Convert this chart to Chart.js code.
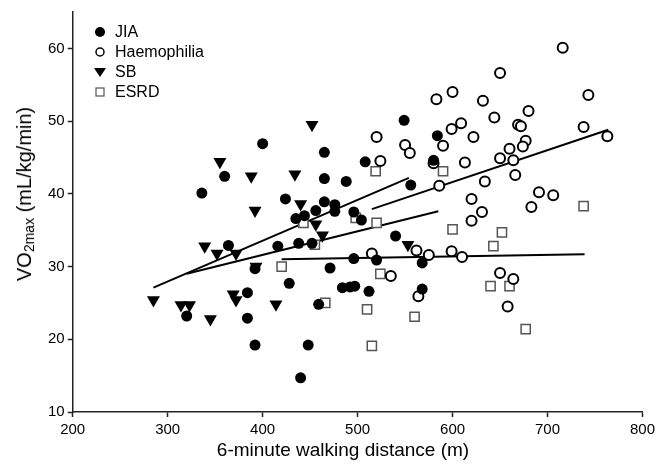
<!DOCTYPE html>
<html lang="en">
<head>
  <meta charset="UTF-8" />
  <title>VO2max vs 6-minute walking distance</title>
  <script src="https://cdn.jsdelivr.net/npm/chart.js"></script>
  <style>
    body {
      margin: 0;
      background: #fff;
      color: #000;
      font-family: Arial, "Liberation Sans", sans-serif;
    }
    #wrap {
      position: relative;
      width: 659px;
      height: 464px;
    }
    canvas {
      position: absolute;
      left: 0;
      top: 0;
    }
    #ytitle {
      position: absolute;
      left: 25px;
      top: 194px;
      transform: translate(-50%, -50%) rotate(-90deg);
      font-size: 20px;
      white-space: nowrap;
    }
    #ytitle sub {
      font-size: 14px;
      vertical-align: -3px;
    }
    #xtitle {
      position: absolute;
      left: 343px;
      top: 450px;
      transform: translate(-50%, -50%);
      font-size: 19px;
      white-space: nowrap;
    }
    #legend {
      position: absolute;
      left: 93px;
      top: 22px;
      font-size: 16px;
    }
    .row {
      display: flex;
      align-items: center;
      height: 20px;
    }
    .row svg {
      margin-right: 8px;
    }
  </style>
</head>
<body>
  <div id="wrap">
    <canvas id="chart" width="659" height="464"></canvas>
    <div id="ytitle">VO<sub>2max</sub> (mL/kg/min)</div>
    <div id="xtitle">6-minute walking distance (m)</div>
    <div id="legend"></div>
  </div>

  <script>
    // data: 6MWD (m) vs VO2max (mL/kg/min)
    const jiaX = [336, 360, 400, 465, 465, 424, 465, 435, 444, 456, 364, 416, 438, 452, 392, 428, 320, 384, 384, 392, 448, 440,
                  459, 471, 549, 584, 508, 580, 488, 556, 476, 476, 496, 504, 540, 496, 520, 568, 484, 492, 497, 512, 568];
    const jiaY = [40.1, 42.4, 46.9, 45.7, 42.1, 39.3, 38.9, 36.6, 37.0, 37.7, 32.9, 32.8, 33.2, 33.2, 29.7, 27.7, 23.2, 26.4, 22.9, 19.2, 19.2, 14.7,
                  24.8, 29.8, 50.1, 48.0, 44.4, 44.6, 41.7, 41.2, 38.5, 37.6, 37.5, 36.4, 34.2, 31.1, 30.9, 30.5, 27.1, 27.2, 27.3, 26.6, 26.9];

    const haemX = [520, 599, 609, 622, 644, 632, 583, 600, 590, 550, 555, 524, 580, 613, 586, 634, 650, 620, 631, 620, 562, 575, 599,
                   610, 515, 535, 564, 650, 664, 658, 716, 650, 743, 680, 669, 672, 738, 763, 677, 674, 660, 664, 666, 691, 706, 683];
    const haemY = [47.8, 48.9, 49.7, 47.8, 50.5, 52.8, 53.0, 54.0, 46.6, 46.7, 45.6, 44.5, 44.2, 44.3, 41.1, 41.7, 44.9, 39.3, 37.5, 36.3, 32.2, 31.6, 32.1,
                   31.3, 31.8, 28.7, 25.9, 29.1, 28.3, 24.5, 60.1, 56.6, 53.6, 51.4, 49.5, 49.3, 49.2, 47.9, 47.3, 46.5, 46.2, 44.6, 42.6, 40.2, 39.8, 38.2];

    const sbX = [452, 355, 388, 434, 440, 392, 456, 463, 339, 352, 372, 393, 285, 314, 323, 345, 369, 372, 414, 553];
    const sbY = [49.5, 44.4, 42.4, 42.7, 38.6, 37.7, 35.8, 34.3, 32.8, 31.8, 31.8, 30.0, 25.4, 24.7, 24.7, 22.8, 26.2, 25.4, 24.8, 33.0];

    const esrdX = [443, 420, 455, 466, 498, 520, 519, 590, 600, 643, 652, 524, 510, 560, 515, 640, 660, 677, 738];
    const esrdY = [36.0, 30.0, 33.0, 25.0, 36.7, 36.0, 43.1, 43.1, 35.1, 32.8, 34.7, 29.0, 24.1, 23.1, 19.1, 27.3, 27.3, 21.4, 38.3];

    // regression lines (end points)
    const jiaFitX = [320, 585];
    const jiaFitY = [29.0, 37.6];
    const haemFitX = [515, 764];
    const haemFitY = [37.9, 48.8];
    const sbFitX = [285, 554];
    const sbFitY = [27.1, 42.2];
    const esrdFitX = [420, 739];
    const esrdFitY = [31.0, 31.7];

    const xTicks = [200, 300, 400, 500, 600, 700, 800];
    const yTicks = [10, 20, 30, 40, 50, 60];

    const groups = ['JIA', 'Haemophilia', 'SB', 'ESRD'];

    function pts(xs, ys) {
      return xs.map((x, i) => ({ x: x, y: ys[i] }));
    }

    function fitLine(xs, ys) {
      return {
        type: 'line',
        data: pts(xs, ys),
        borderColor: '#000',
        borderWidth: 2,
        pointRadius: 0,
        fill: false,
        order: 5
      };
    }

    const datasets = [
      { label: 'JIA', data: pts(jiaX, jiaY), pointStyle: 'circle', pointRadius: 5.5,
        backgroundColor: '#000', borderColor: '#000', borderWidth: 0, order: 1 },
      { label: 'Haemophilia', data: pts(haemX, haemY), pointStyle: 'circle', pointRadius: 5,
        backgroundColor: '#fff', borderColor: '#000', borderWidth: 2, order: 2 },
      { label: 'SB', data: pts(sbX, sbY), pointStyle: 'triangle', pointRotation: 180, pointRadius: 7.5,
        backgroundColor: '#000', borderColor: '#000', borderWidth: 0, order: 3 },
      { label: 'ESRD', data: pts(esrdX, esrdY), pointStyle: 'rect', pointRadius: 6.5,
        backgroundColor: '#fff', borderColor: '#555', borderWidth: 1.5, order: 4 },
      fitLine(jiaFitX, jiaFitY),
      fitLine(haemFitX, haemFitY),
      fitLine(sbFitX, sbFitY),
      fitLine(esrdFitX, esrdFitY)
    ];

    const axisColor = '#222';

    new Chart(document.getElementById('chart'), {
      type: 'scatter',
      data: { datasets: datasets },
      options: {
        responsive: false,
        animation: false,
        layout: { padding: { left: 32.7, right: 14.3, top: 10, bottom: 0 } },
        plugins: {
          legend: { display: false },
          tooltip: { enabled: false }
        },
        scales: {
          x: {
            type: 'linear',
            min: xTicks[0],
            max: xTicks[xTicks.length - 1],
            afterBuildTicks: s => { s.ticks = xTicks.map(v => ({ value: v })); },
            afterFit: s => { s.height = 52; },
            ticks: { color: '#000', font: { family: 'Arial', size: 15 }, padding: 4, maxRotation: 0 },
            grid: { drawOnChartArea: false, tickLength: 5, tickColor: axisColor, tickWidth: 1.5 },
            border: { color: axisColor, width: 1.5 }
          },
          y: {
            type: 'linear',
            min: 10,
            max: 65,
            afterBuildTicks: s => { s.ticks = yTicks.map(v => ({ value: v })); },
            afterFit: s => { s.width = 40; },
            ticks: { color: '#000', font: { family: 'Arial', size: 15 }, padding: 3 },
            grid: { drawOnChartArea: false, tickLength: 5, tickColor: axisColor, tickWidth: 1.5 },
            border: { color: axisColor, width: 1.5 }
          }
        }
      }
    });

    // legend in the top-left corner of the plot
    const markers = {
      'JIA': '<circle cx="7" cy="7" r="5" fill="#000"/>',
      'Haemophilia': '<circle cx="7" cy="7" r="4" fill="#fff" stroke="#000" stroke-width="1.5"/>',
      'SB': '<polygon points="1,3 13,3 7,12" fill="#000"/>',
      'ESRD': '<rect x="3" y="3" width="8" height="8" fill="#fff" stroke="#555" stroke-width="1.2"/>'
    };
    const legend = document.getElementById('legend');
    groups.forEach(g => {
      const row = document.createElement('div');
      row.className = 'row';
      row.innerHTML = '<svg width="14" height="14">' + markers[g] + '</svg><span>' + g + '</span>';
      legend.appendChild(row);
    });
  </script>
</body>
</html>
